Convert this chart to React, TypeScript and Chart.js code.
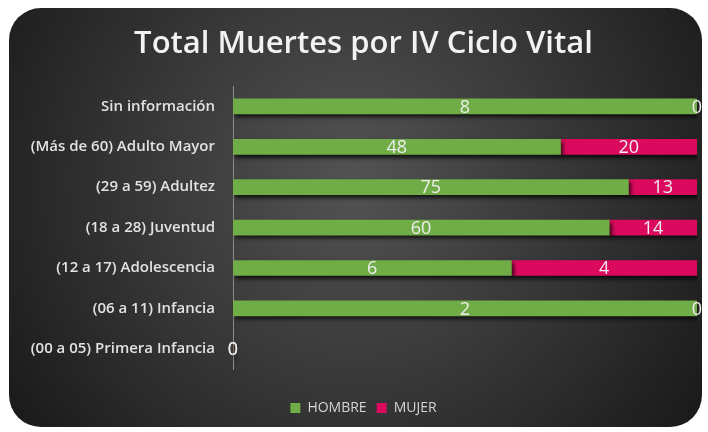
import React, { useEffect, useRef } from "react";
import { Chart, registerables } from "chart.js";

Chart.register(...registerables);

const categories = [
  "Sin información",
  "(Más de 60) Adulto Mayor",
  "(29 a 59) Adultez",
  "(18 a 28) Juventud",
  "(12 a 17) Adolescencia",
  "(06 a 11) Infancia",
  "(00 a 05) Primera Infancia",
];
const hombre = [8, 48, 75, 60, 6, 2, 0];
const mujer = [0, 20, 13, 14, 4, 0, 0];
const seriesNames = ["HOMBRE", "MUJER"];
const seriesColors = ["#70ad47", "#dc0a5f"];
const titleText = "Total Muertes por IV Ciclo Vital";

const totals = categories.map((_, i) => hombre[i] + mujer[i]);
const share = (arr: number[]) => arr.map((v, i) => (totals[i] ? (v / totals[i]) * 100 : 0));
const rawSeries = [hombre, mujer];

const bgPlugin = {
  id: "cardBg",
  beforeDraw(chart: any) {
    const { ctx, width, height } = chart;
    ctx.save();
    ctx.fillStyle = "#ffffff";
    ctx.fillRect(0, 0, width, height);
    const g = ctx.createRadialGradient(354, 180, 10, 354, 180, 430);
    g.addColorStop(0, "#525252");
    g.addColorStop(0.55, "#333333");
    g.addColorStop(1, "#181818");
    ctx.beginPath();
    ctx.roundRect(9, 8, 693, 419, 32);
    ctx.fillStyle = g;
    ctx.fill();
    ctx.restore();
  },
};

const shadowPlugin = {
  id: "barShadow",
  beforeDatasetsDraw(chart: any) {
    const ctx = chart.ctx;
    ctx.save();
    ctx.shadowColor = "rgba(0,0,0,0.75)";
    ctx.shadowBlur = 4;
    ctx.shadowOffsetX = 2;
    ctx.shadowOffsetY = 3;
  },
  afterDatasetsDraw(chart: any) {
    chart.ctx.restore();
  },
};

const labelPlugin = {
  id: "barLabels",
  afterDraw(chart: any) {
    const ctx = chart.ctx;
    ctx.save();
    ctx.font = "18px 'Open Sans'";
    ctx.fillStyle = "#eeeeee";
    ctx.textAlign = "center";
    ctx.textBaseline = "middle";
    chart.data.datasets.forEach((_: any, di: number) => {
      const meta = chart.getDatasetMeta(di);
      meta.data.forEach((bar: any, i: number) => {
        const { x, base, y } = bar.getProps(["x", "base", "y"], true);
        ctx.fillText(String(rawSeries[di][i]), (x + base) / 2, y + 1);
      });
    });
    ctx.restore();
  },
};

export default function App() {
  const ref = useRef<HTMLCanvasElement>(null);
  useEffect(() => {
    document.body.style.margin = "0";
    const chart = new Chart(ref.current!, {
      type: "bar",
      data: {
        labels: categories,
        datasets: [
          { label: seriesNames[0], data: share(hombre), backgroundColor: seriesColors[0], barThickness: 15 },
          { label: seriesNames[1], data: share(mujer), backgroundColor: seriesColors[1], barThickness: 15 },
        ],
      },
      options: {
        indexAxis: "y",
        animation: false,
        responsive: false,
        layout: { padding: { left: 30, right: 11, top: 13, bottom: 7 } },
        scales: {
          x: {
            stacked: true,
            min: 0,
            max: 100,
            display: true,
            grid: { display: false, drawTicks: false },
            border: { display: false },
            ticks: { display: false },
            afterFit: (scale: any) => {
              scale.height = 22;
            },
          },
          y: {
            stacked: true,
            grid: { display: false, drawTicks: false },
            border: { display: true, color: "#8c8c8c", width: 1 },
            ticks: {
              color: "#e2e2e2",
              font: { family: "'Open Sans'", size: 15, weight: "600" },
              padding: 18,
            },
            afterFit: (scale: any) => {
              scale.width = 203;
            },
          },
        },
        plugins: {
          title: {
            display: true,
            text: titleText,
            color: "#f2f2f2",
            font: { family: "'Open Sans'", size: 31, weight: "600" },
            padding: { top: 13, bottom: 23 },
          },
          legend: {
            position: "bottom",
            labels: {
              color: "#d4d4d4",
              boxWidth: 10,
              boxHeight: 10,
              font: { family: "'Open Sans'", size: 14 },
              padding: 10,
            },
          },
          tooltip: { enabled: false },
        },
      },
      plugins: [bgPlugin, shadowPlugin, labelPlugin],
    });
    return () => chart.destroy();
  }, []);
  return <canvas ref={ref} width={708} height={432} style={{ display: "block" }} />;
}
